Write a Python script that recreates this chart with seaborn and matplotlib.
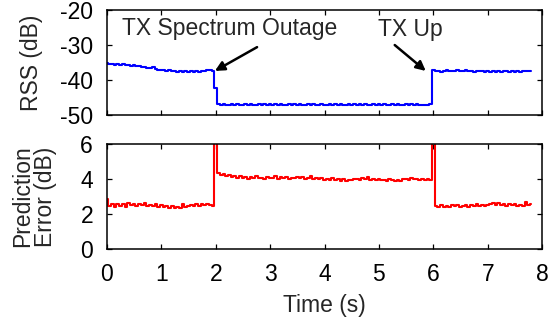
import numpy as np
import pandas as pd
import seaborn as sns
import matplotlib.pyplot as plt

# ---------------- data ----------------
time_s = np.round(np.arange(0, 157) * 0.05, 2)

rss_before = [-35.1, -35.4, -35.3, -35.6, -35.4, -35.7, -35.5, -35.8, -35.6, -35.9,
              -35.8, -36.1, -36.0, -36.3, -36.2, -36.5, -36.6, -36.4, -36.9, -37.0,
              -37.2, -37.0, -37.4, -37.1, -37.5, -37.3, -37.6, -37.4, -37.7, -37.5,
              -37.8, -37.5, -37.7, -37.4, -37.6, -37.3, -37.5, -37.2, -37.0, -37.4]
rss_outage = [-42.4,
              -46.9, -47.1, -46.8, -47.0, -47.2, -46.9, -47.0, -46.8, -47.1, -47.0,
              -46.9, -47.1, -46.8, -47.0, -47.1, -46.9, -47.0, -46.8, -47.1, -46.9,
              -47.0, -46.8, -47.1, -46.9, -47.0, -47.2, -46.9, -47.0, -46.8, -47.1,
              -46.9, -47.0, -47.1, -46.8, -47.0, -46.9, -47.1, -47.0, -46.8, -47.0,
              -47.1, -46.9, -47.0, -46.8, -47.1, -46.9, -47.0, -47.2, -46.9, -47.0,
              -46.8, -47.1, -46.9, -47.0, -46.8, -47.1, -47.0, -46.9, -47.1, -46.8,
              -47.0, -46.9, -47.1, -47.0, -46.8, -47.0, -46.9, -47.1, -47.2, -46.9,
              -47.0, -46.8, -47.1, -46.9, -47.0, -47.2, -47.0, -47.1, -46.9]
rss_after = [-37.2, -37.5, -37.3, -37.6, -37.4, -37.2, -37.5, -37.3, -37.4, -37.1,
             -37.3, -37.5, -37.2, -37.4, -37.3, -37.6, -37.4, -37.5, -37.3, -37.6,
             -37.4, -37.7, -37.5, -37.6, -37.4, -37.6, -37.3, -37.5, -37.6, -37.4,
             -37.7, -37.5, -37.6, -37.4, -37.3, -37.5, -37.4]

err_before = [2.85, 2.45, 2.55, 2.40, 2.60, 2.48, 2.55, 2.42, 2.65, 2.50,
              2.58, 2.45, 2.55, 2.50, 2.62, 2.44, 2.52, 2.47, 2.56, 2.40,
              2.50, 2.38, 2.45, 2.35, 2.48, 2.32, 2.42, 2.36, 2.55, 2.40,
              2.46, 2.52, 2.44, 2.55, 2.48, 2.58, 2.50, 2.60, 2.53, 2.48]
err_outage = [6.3,
              4.35, 4.22, 4.28, 4.15, 4.20, 4.10, 4.18, 4.06, 4.14, 4.08,
              4.12, 4.02, 4.10, 4.05, 4.15, 4.03, 4.08, 4.00, 4.12, 4.04,
              4.08, 4.15, 4.02, 4.10, 4.05, 4.12, 4.00, 4.08, 4.03, 4.10,
              4.05, 4.12, 4.02, 4.08, 4.15, 4.00, 4.06, 3.98, 4.04, 3.96,
              4.02, 3.95, 4.03, 3.92, 3.98, 3.90, 3.97, 3.88, 3.95, 3.92,
              3.98, 4.02, 3.95, 4.05, 3.97, 4.10, 3.96, 4.00, 3.93, 3.98,
              3.92, 3.96, 3.90, 3.98, 3.94, 3.88, 3.95, 3.91, 3.97, 4.02,
              3.96, 4.05, 3.98, 4.02, 3.95, 4.00, 3.92, 3.98, 3.95]
err_after = [6.3,
             2.45, 2.38, 2.50, 2.42, 2.48, 2.40, 2.52, 2.45, 2.50, 2.40,
             2.47, 2.53, 2.42, 2.50, 2.45, 2.55, 2.48, 2.52, 2.44, 2.50,
             2.58, 2.62, 2.50, 2.65, 2.52, 2.56, 2.48, 2.60, 2.50, 2.55,
             2.45, 2.52, 2.48, 2.66, 2.50, 2.55]

x_ticks = [0, 1, 2, 3, 4, 5, 6, 7, 8]
rss_ticks = [-50, -40, -30, -20]
err_ticks = [0, 2, 4, 6]

df = pd.DataFrame({"time": time_s,
                   "rss": rss_before + rss_outage + rss_after,
                   "err": err_before + err_outage + err_after})

# ---------------- style ----------------
sns.set_style("ticks")
plt.rcParams['font.family'] = ['Liberation Sans', 'DejaVu Sans']
plt.rcParams['axes.unicode_minus'] = False
FS = 16.5

fig = plt.figure(figsize=(5.51, 3.24), dpi=100)
ax1 = fig.add_axes([0.194, 0.645, 0.790, 0.324])
ax2 = fig.add_axes([0.194, 0.231, 0.790, 0.325])

sns.lineplot(data=df, x="time", y="rss", ax=ax1, color="#0000ff", lw=1.5,
             sort=False, estimator=None, drawstyle='steps-mid')
sns.lineplot(data=df, x="time", y="err", ax=ax2, color="#ff0000", lw=1.5,
             sort=False, estimator=None, drawstyle='steps-mid')

for ax in (ax1, ax2):
    ax.set_xlim(0, 8)
    ax.set_xticks(x_ticks)
    ax.tick_params(direction='in', top=True, right=True, length=3.5, width=0.9,
                   labelsize=FS, colors='black')
    ax.tick_params(axis='y', pad=10)
    ax.tick_params(axis='x', pad=10)
    for s in ax.spines.values():
        s.set_visible(True)
        s.set_linewidth(1.1)
        s.set_color('black')

ax1.set_ylim(-50, -20)
ax1.set_yticks(rss_ticks)
ax1.set_xticklabels([])
ax1.set_xlabel("")
ax1.set_ylabel("RSS (dB)", fontsize=FS, labelpad=12)

ax2.set_ylim(0, 6)
ax2.set_yticks(err_ticks)
ax2.set_xlabel("Time (s)", fontsize=FS, labelpad=6)
ax2.set_ylabel("Prediction\nError (dB)", fontsize=FS, linespacing=1.0, labelpad=17)

# annotations
ax1.text(2.26, -25.4, "TX Spectrum Outage", fontsize=FS, ha='center', va='center')
ax1.annotate("", xy=(1.985, -37.4), xytext=(2.76, -30.6),
             arrowprops=dict(arrowstyle='-|>', color='black', lw=1.8,
                             mutation_scale=14, shrinkA=0, shrinkB=0))
ax1.text(5.57, -25.6, "TX Up", fontsize=FS, ha='center', va='center')
ax1.annotate("", xy=(5.86, -37.4), xytext=(5.29, -30.0),
             arrowprops=dict(arrowstyle='-|>', color='black', lw=1.8,
                             mutation_scale=14, shrinkA=0, shrinkB=0))

fig.savefig("out.png", dpi=100)
